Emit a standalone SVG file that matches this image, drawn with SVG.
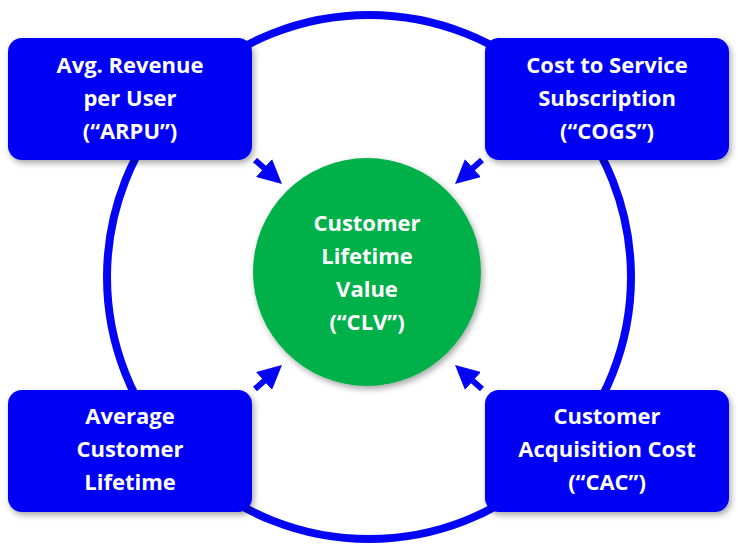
<svg xmlns="http://www.w3.org/2000/svg" width="738" height="550" viewBox="0 0 738 550">
<defs>
<style>
.box{fill:#0505f5;}
.t{fill:#fff;font-family:"Open Sans","Lato",sans-serif;font-weight:bold;font-size:22px;text-anchor:middle;}
.c{stroke:#0505f5;stroke-width:6;fill:none;}
</style>
<marker id="ah" markerWidth="4" markerHeight="4" refX="2" refY="2" orient="auto" markerUnits="strokeWidth"><path d="M0,0 L4,2 L0,4 Z" fill="#0505f5"/></marker>
<filter id="sh" x="-20%" y="-20%" width="140%" height="140%"><feDropShadow dx="2" dy="3" stdDeviation="3" flood-opacity="0.35"/></filter>
</defs>
<circle cx="369" cy="277" r="262" fill="none" stroke="#0505f5" stroke-width="8"/>
<g id="connectors">
<line class="c" x1="255" y1="160" x2="273" y2="176" marker-end="url(#ah)"/>
<line class="c" x1="482" y1="160" x2="464" y2="176" marker-end="url(#ah)"/>
<line class="c" x1="255" y1="389" x2="273" y2="373" marker-end="url(#ah)"/>
<line class="c" x1="482" y1="389" x2="464" y2="373" marker-end="url(#ah)"/>
</g>
<g id="clv"><circle cx="367" cy="272" r="114" fill="#00b04a" filter="url(#sh)"/>
<text class="t" x="367" y="231">Customer</text><text class="t" x="367" y="264">Lifetime</text><text class="t" x="367" y="297">Value</text><text class="t" x="367" y="330">(“CLV”)</text></g>
<g id="arpu"><rect class="box" x="8" y="38" width="244" height="122" rx="14" filter="url(#sh)"/>
<text class="t" x="130" y="73">Avg. Revenue</text><text class="t" x="130" y="106">per User</text><text class="t" x="130" y="139">(“ARPU”)</text></g>
<g id="cogs"><rect class="box" x="485" y="38" width="244" height="122" rx="14" filter="url(#sh)"/>
<text class="t" x="607" y="73">Cost to Service</text><text class="t" x="607" y="106">Subscription</text><text class="t" x="607" y="139">(“COGS”)</text></g>
<g id="lifetime"><rect class="box" x="8" y="390" width="244" height="122" rx="14" filter="url(#sh)"/>
<text class="t" x="130" y="424">Average</text><text class="t" x="130" y="457">Customer</text><text class="t" x="130" y="490">Lifetime</text></g>
<g id="cac"><rect class="box" x="485" y="390" width="244" height="122" rx="14" filter="url(#sh)"/>
<text class="t" x="607" y="424">Customer</text><text class="t" x="607" y="457">Acquisition Cost</text><text class="t" x="607" y="490">(“CAC”)</text></g>
</svg>
